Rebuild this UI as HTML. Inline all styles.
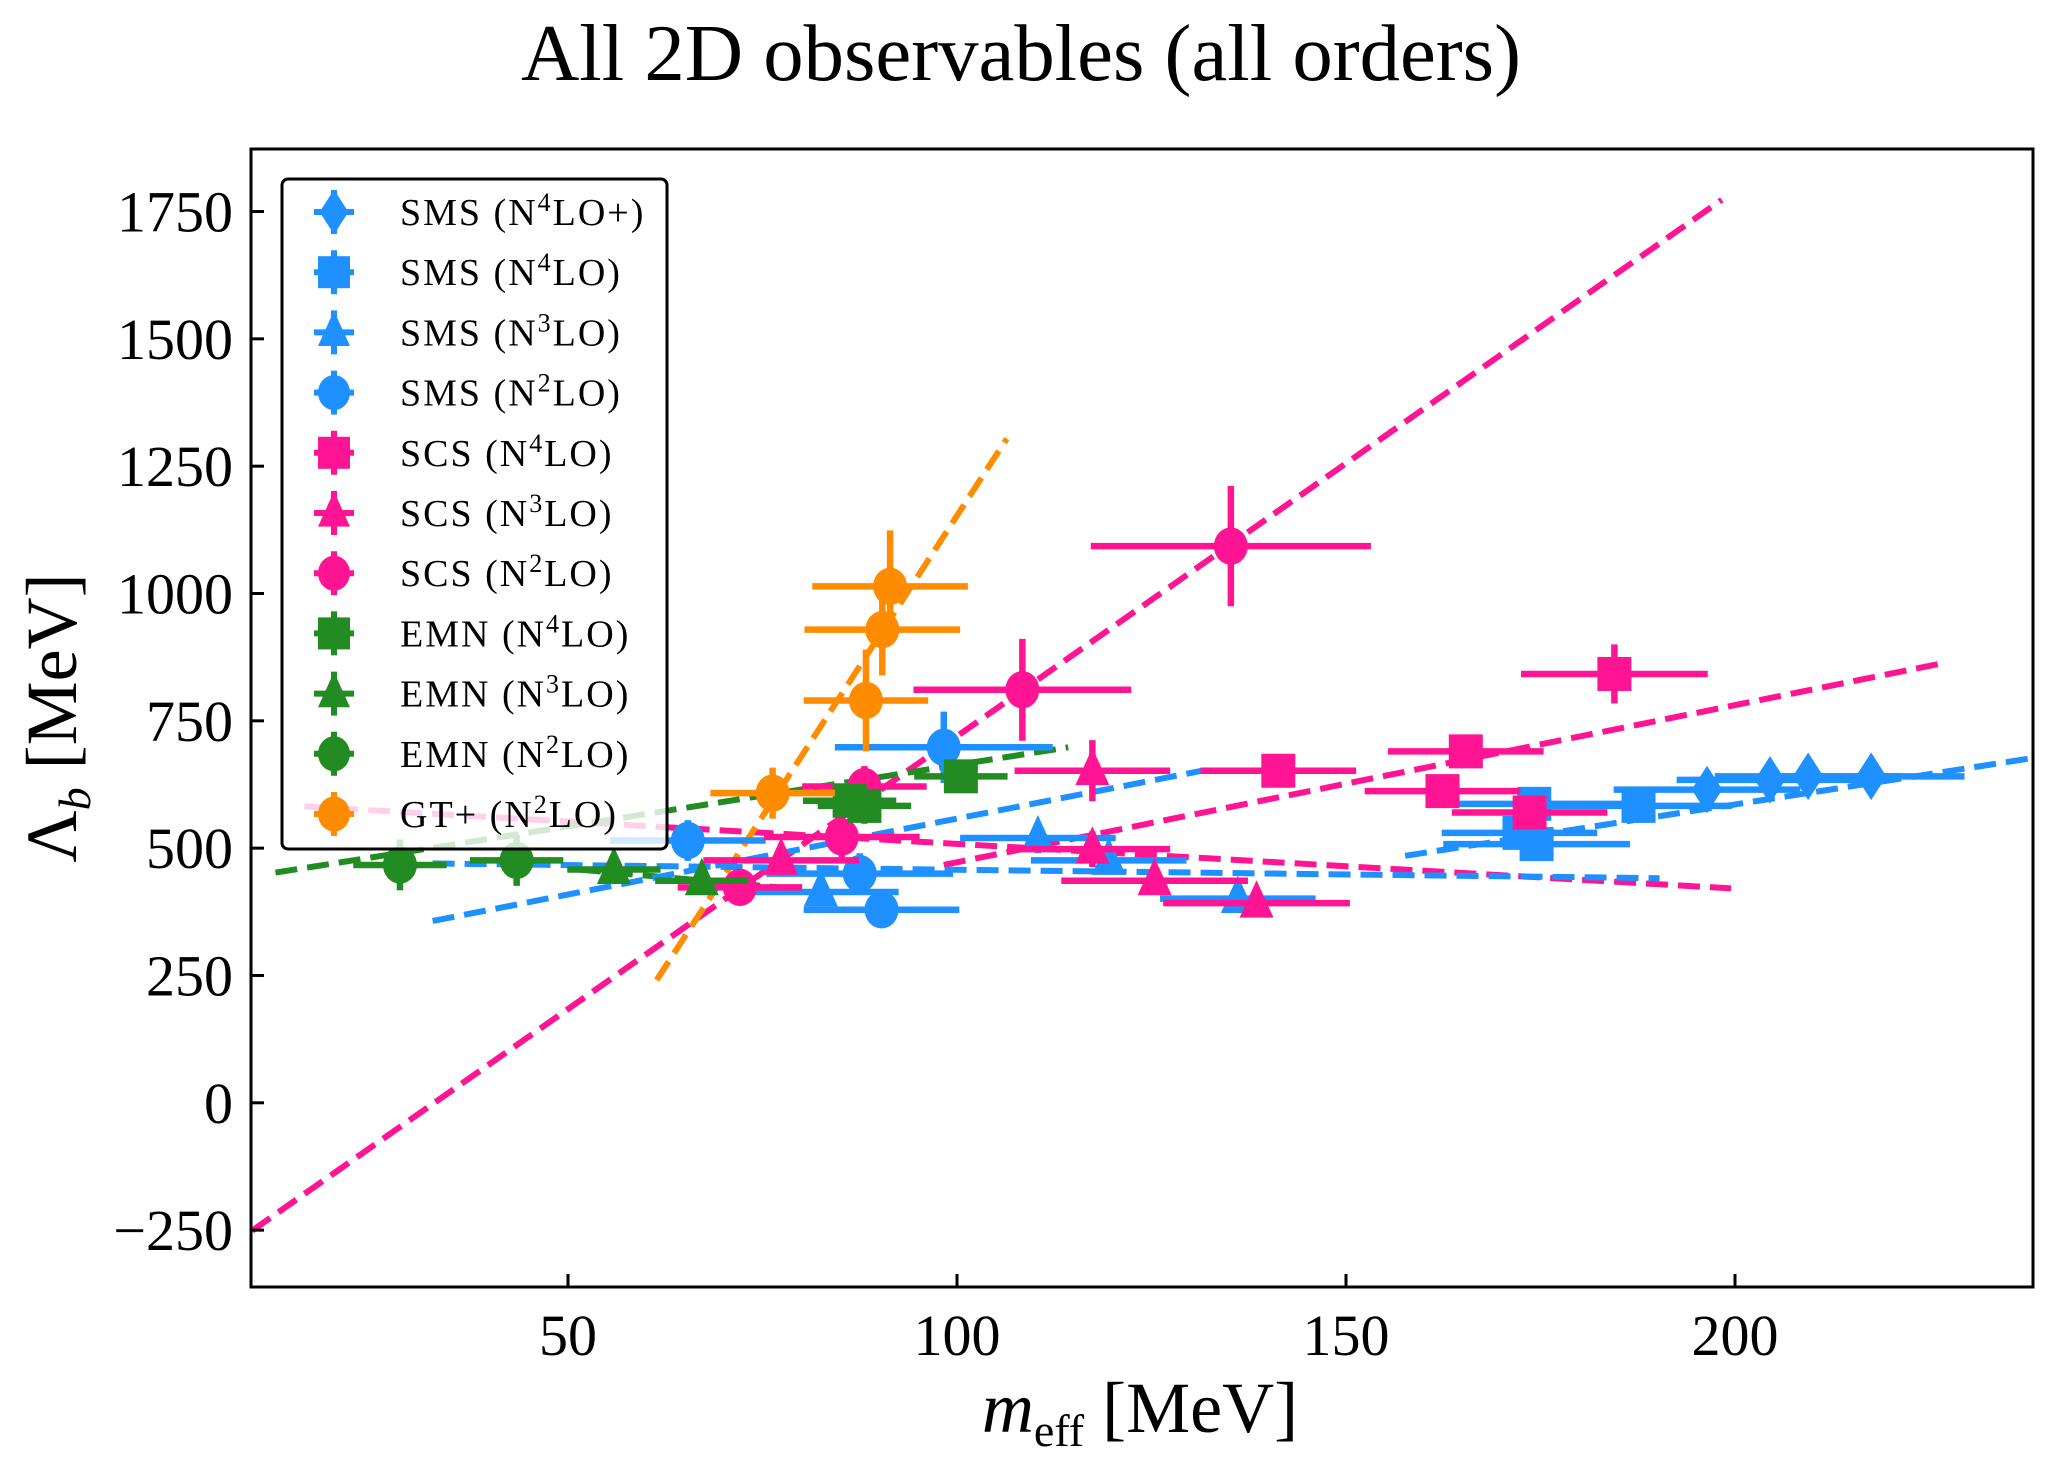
<!DOCTYPE html>
<html><head><meta charset="utf-8"><style>
html,body{margin:0;padding:0;background:#fff;}
svg{display:block;font-family:"Liberation Serif","DejaVu Serif",serif;}
</style></head>
<body>
<svg id="chart" width="2049" height="1459" viewBox="0 0 2049 1459" xmlns="http://www.w3.org/2000/svg">
<rect width="2049" height="1459" fill="#fff"/>
<text x="1021" y="80" font-size="80" text-anchor="middle" textLength="1000" lengthAdjust="spacingAndGlyphs">All 2D observables (all orders)</text>
<g id="lines"></g>
<g id="marks"></g>
<g id="axes"></g>
<g id="legend"></g>
</svg>
<script>
// ---- data ----
const xTicks = [50, 100, 150, 200];
const yTicks = [-250, 0, 250, 500, 750, 1000, 1250, 1500, 1750];
const seriesNames = ["SMS (N4LO+)","SMS (N4LO)","SMS (N3LO)","SMS (N2LO)","SCS (N4LO)","SCS (N3LO)","SCS (N2LO)","EMN (N4LO)","EMN (N3LO)","EMN (N2LO)","GT+ (N2LO)"];
const seriesColors = ["#1E90FF","#1E90FF","#1E90FF","#1E90FF","#FF1493","#FF1493","#FF1493","#228B22","#228B22","#228B22","#FF8C00"];
const seriesMarkers = ["d","s","t","o","s","t","o","s","t","o","o"];
const smsN4LOp_x = [196.4, 204.5, 209.4, 217.5];
const smsN4LOp_y = [615, 634, 641, 641];
const smsN4LOp_xe = [12, 12, 12, 12];
const smsN4LOp_ye = [20, 20, 20, 20];
const smsN4LO_x = [174.5, 172.3, 187.6, 174.2];
const smsN4LO_y = [508, 530, 583, 587];
const smsN4LO_xe = [12, 10, 12, 12];
const smsN4LO_ye = [25, 25, 25, 25];
const smsN3LO_x = [82.5, 110.4, 119.5, 136.1];
const smsN3LO_y = [414, 520, 476, 401];
const smsN3LO_xe = [10, 10, 10, 10];
const smsN3LO_ye = [20, 30, 25, 15];
const smsN2LO_x = [65.4, 87.5, 90.3, 98.3];
const smsN2LO_y = [515, 450, 379, 698];
const smsN2LO_xe = [10, 12, 10, 14];
const smsN2LO_ye = [40, 40, 30, 70];
const scsN4LO_x = [141.3, 162.4, 165.4, 173.6, 184.5];
const scsN4LO_y = [652, 612, 690, 570, 842];
const scsN4LO_xe = [10, 10, 10, 10, 12];
const scsN4LO_ye = [30, 30, 30, 25, 58];
const scsN3LO_x = [77.4, 117.4, 117.4, 125.4, 138.5];
const scsN3LO_y = [476, 498, 652, 436, 392];
const scsN3LO_xe = [10, 10, 10, 12, 12];
const scsN3LO_ye = [20, 35, 60, 20, 15];
const scsN2LO_x = [72.1, 85.2, 88.1, 108.4, 135.2];
const scsN2LO_y = [423, 522, 621, 811, 1093];
const scsN2LO_xe = [8, 10, 8, 14, 18];
const scsN2LO_ye = [25, 40, 40, 100, 118];
const emnN4LO_x = [86.2, 88.1, 100.5];
const emnN4LO_y = [593, 583, 641];
const emnN4LO_xe = [6, 6, 6];
const emnN4LO_ye = [25, 35, 30];
const emnN3LO_x = [55.9, 67.2];
const emnN3LO_y = [458, 436];
const emnN3LO_xe = [6, 6];
const emnN3LO_ye = [20, 20];
const emnN2LO_x = [28.4, 43.4];
const emnN2LO_y = [467, 476];
const emnN2LO_xe = [6, 6];
const emnN2LO_ye = [50, 50];
const gt_x = [76.3, 88.3, 90.4, 91.4];
const gt_y = [608, 790, 929, 1014];
const gt_xe = [8, 8, 10, 10];
const gt_ye = [50, 100, 90, 110];
const fitColors = ["#FF1493","#FF1493","#FF1493","#FF8C00","#228B22","#228B22","#1E90FF","#1E90FF","#1E90FF"];
const fitX0 = [9.4, 98.3, 16.1, 61.4, 12.4, 51.4, 32.6, 32.6, 157.6];
const fitY0 = [-251, 467, 582, 241, 452, 458, 470, 357, 485];
const fitX1 = [198.3, 226.3, 199.5, 106.4, 114.3, 79.3, 190.3, 131.5, 238.3];
const fitY1 = [1773, 862, 421, 1304, 698, 420, 441, 652, 677];

const allX=[smsN4LOp_x,smsN4LO_x,smsN3LO_x,smsN2LO_x,scsN4LO_x,scsN3LO_x,scsN2LO_x,emnN4LO_x,emnN3LO_x,emnN2LO_x,gt_x];
const allY=[smsN4LOp_y,smsN4LO_y,smsN3LO_y,smsN2LO_y,scsN4LO_y,scsN3LO_y,scsN2LO_y,emnN4LO_y,emnN3LO_y,emnN2LO_y,gt_y];
const allXE=[smsN4LOp_xe,smsN4LO_xe,smsN3LO_xe,smsN2LO_xe,scsN4LO_xe,scsN3LO_xe,scsN2LO_xe,emnN4LO_xe,emnN3LO_xe,emnN2LO_xe,gt_xe];
const allYE=[smsN4LOp_ye,smsN4LO_ye,smsN3LO_ye,smsN2LO_ye,scsN4LO_ye,scsN3LO_ye,scsN2LO_ye,emnN4LO_ye,emnN3LO_ye,emnN2LO_ye,gt_ye];

// ---- axes ----
const L=251,R=2033,T=149,B=1287;
const X=v=>568+(v-50)*7.78;
const Y=v=>1102.8-v*0.5093;
const NS="http://www.w3.org/2000/svg";
function mk(tag,attrs,parent){const e=document.createElementNS(NS,tag);for(const k in attrs)e.setAttribute(k,attrs[k]);parent.appendChild(e);return e;}
const gL=document.getElementById('lines'),gM=document.getElementById('marks'),gA=document.getElementById('axes'),gG=document.getElementById('legend');
const defs=mk('defs',{},document.getElementById('chart'));
const cp=mk('clipPath',{id:'clip'},defs);mk('rect',{x:L,y:T,width:R-L,height:B-T},cp);
gL.setAttribute('clip-path','url(#clip)');gM.setAttribute('clip-path','url(#clip)');

for(let i=0;i<fitX0.length;i++){
  const l=mk('line',{x1:X(fitX0[i]),y1:Y(fitY0[i]),x2:X(fitX1[i]),y2:Y(fitY1[i]),stroke:fitColors[i],'stroke-width':6,'stroke-dasharray':'22,10',fill:'none'},gL);
  
  
}
function marker(type,cx,cy,s,color,parent){
  let e;
  if(type==='o') e=mk('ellipse',{cx:cx,cy:cy,rx:s,ry:s*1.1,fill:color},parent);
  else if(type==='s') e=mk('rect',{x:cx-s,y:cy-s,width:2*s,height:2*s,fill:color},parent);
  else if(type==='t') e=mk('polygon',{points:`${cx},${cy-s*1.35} ${cx+s},${cy+s*0.85} ${cx-s},${cy+s*0.85}`,fill:color},parent);
  else e=mk('polygon',{points:`${cx},${cy-s*1.4} ${cx+s*0.9},${cy} ${cx},${cy+s*1.4} ${cx-s*0.9},${cy}`,fill:color},parent);
  return e;
}
for(let s=0;s<allX.length;s++){
  const g=mk('g',{},gM);
  
  
  for(let j=0;j<allX[s].length;j++){
    const cx=X(allX[s][j]),cy=Y(allY[s][j]);
    mk('line',{x1:X(allX[s][j]-allXE[s][j]),x2:X(allX[s][j]+allXE[s][j]),y1:cy,y2:cy,stroke:seriesColors[s],'stroke-width':6.5},g);
    mk('line',{x1:cx,x2:cx,y1:Y(allY[s][j]-allYE[s][j]),y2:Y(allY[s][j]+allYE[s][j]),stroke:seriesColors[s],'stroke-width':6.5},g);
    const m=marker(seriesMarkers[s],cx,cy,17,seriesColors[s],g);
    
    
  }
}
// frame
const fr=mk('rect',{x:L,y:T,width:R-L,height:B-T,fill:'none',stroke:'#000','stroke-width':3},gA);


for(const t of xTicks){
  mk('line',{x1:X(t),x2:X(t),y1:B,y2:B-13,stroke:'#000','stroke-width':3},gA);
  const tx=mk('text',{x:X(t),y:B+68,'font-size':58,'text-anchor':'middle'},gA);tx.textContent=t;
  
  
}
for(const t of yTicks){
  mk('line',{x1:L,x2:L+13,y1:Y(t),y2:Y(t),stroke:'#000','stroke-width':3},gA);
  const tx=mk('text',{x:L-18,y:Y(t)+20,'font-size':58,'text-anchor':'end'},gA);tx.textContent=(t<0?'\u2212'+(-t):t);
  
  
}
const xl=mk('text',{x:1140,y:1432,'font-size':72,'text-anchor':'middle'},gA);
xl.innerHTML='<tspan font-style="italic">m</tspan><tspan font-size="46" dy="14">eff</tspan><tspan dy="-14"> [MeV]</tspan>';


const yl=mk('text',{x:0,y:0,'font-size':72,'text-anchor':'middle',transform:'translate(76,718) rotate(-90)'},gA);
yl.innerHTML='Λ<tspan font-size="46" font-style="italic" dy="14">b</tspan><tspan dy="-14"> [MeV]</tspan>';


// legend
const lb=mk('rect',{x:282,y:179,width:385,height:670,rx:6,fill:'#fff','fill-opacity':0.8,stroke:'#000','stroke-width':3},gG);


for(let s=0;s<seriesNames.length;s++){
  const cy=212+s*60.2;
  const g=mk('g',{},gG);
  
  
  mk('line',{x1:314,x2:354,y1:cy,y2:cy,stroke:seriesColors[s],'stroke-width':6},g);
  mk('line',{x1:334,x2:334,y1:cy-22,y2:cy+22,stroke:seriesColors[s],'stroke-width':6},g);
  marker(seriesMarkers[s],334,cy,16,seriesColors[s],g);
  const t=mk('text',{x:400,y:cy+13,'font-size':38,'letter-spacing':2},g);
  const m=seriesNames[s].match(/^(.*\(N)(\d)(.*)$/);
  t.innerHTML=m[1]+'<tspan font-size="26" dy="-14">'+m[2]+'</tspan><tspan dy="14">'+m[3]+'</tspan>';
}
</script>
</body></html>
